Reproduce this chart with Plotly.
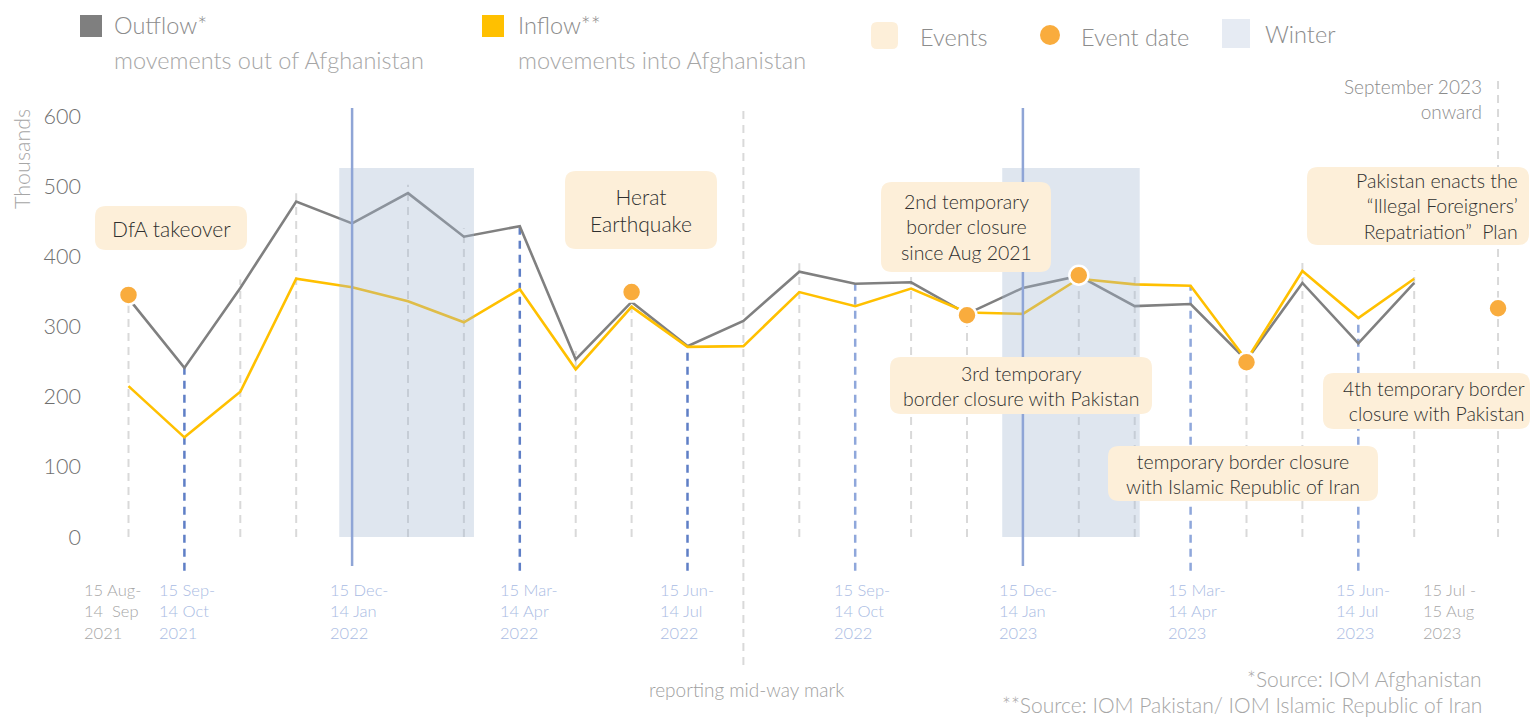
import plotly.graph_objects as go

# ---------------- data ----------------
periods = ["15 Aug-14 Sep 2021", "15 Sep-14 Oct 2021", "15 Oct-14 Nov 2021", "15 Nov-14 Dec 2021",
           "15 Dec-14 Jan 2022", "15 Jan-14 Feb 2022", "15 Feb-14 Mar 2022", "15 Mar-14 Apr 2022",
           "15 Apr-14 May 2022", "15 May-14 Jun 2022", "15 Jun-14 Jul 2022", "15 Jul-14 Aug 2022",
           "15 Aug-14 Sep 2022", "15 Sep-14 Oct 2022", "15 Oct-14 Nov 2022", "15 Nov-14 Dec 2022",
           "15 Dec-14 Jan 2023", "15 Jan-14 Feb 2023", "15 Feb-14 Mar 2023", "15 Mar-14 Apr 2023",
           "15 Apr-14 May 2023", "15 May-14 Jun 2023", "15 Jun-14 Jul 2023", "15 Jul-15 Aug 2023"]
outflow = [340, 241, 355, 478, 447, 490, 428, 443, 253, 335, 272, 308,
           378, 361, 363, 318, 355, 372, 329, 332, 252, 362, 276, 362]
inflow = [215, 142, 207, 368, 356, 336, 306, 353, 239, 328, 271, 272,
          349, 329, 354, 320, 318, 368, 360, 358, 252, 379, 312, 368]

event_x = [0, 9, 15, 17, 20, 24.5]
event_y = [345, 349, 316, 373, 249, 326]

winter_start = [3.77, 15.63]
winter_end = [6.18, 18.09]
winter_top = 526

tick_idx = [0, 1, 4, 7, 10, 13, 16, 19, 22, 23]
tick_text = ["15 Aug-<br>14  Sep<br>2021", "15 Sep-<br>14 Oct<br>2021", "15 Dec-<br>14 Jan<br>2022",
             "15 Mar-<br>14 Apr<br>2022", "15 Jun-<br>14 Jul<br>2022", "15 Sep-<br>14 Oct<br>2022",
             "15 Dec-<br>14 Jan<br>2023", "15 Mar-<br>14 Apr<br>2023", "15 Jun-<br>14 Jul<br>2023",
             "15 Jul -<br>15 Aug<br>2023"]
y_ticks = [0, 100, 200, 300, 400, 500, 600]

grey_month_idx = [0, 2, 3, 5, 6, 8, 9, 12, 14, 15, 17, 18, 20, 21, 23]
quarter_dark_idx = [1, 7, 10]
quarter_light_idx = [13, 19, 22]
winter_mid_idx = [4, 16]
midway_idx = 11
onward_x = 24.5

# ---------------- geometry (pixel mapping) ----------------
W, H = 1530, 717
X0PX, DXPX = 128.5, 55.9
Y0PX, PXPER = 537.0, 0.7017


def X(px):
    return (px - X0PX) / DXPX


def Y(py):
    return (Y0PX - py) / PXPER


FONT = "Lato"
GREY_TXT = "#8c8c8c"
LIGHT_TXT = "#a6a6a6"
BLUE_TXT = "#a9bbe3"
DARK_TXT = "#2f2f2f"
BOX_FILL = "#fdefd9"
ORANGE = "#f9ac3d"
GREY_LINE = "#808080"
YELLOW = "#ffc000"
WINTER = "rgba(164,184,209,0.35)"


def F(size, color, weight=300):
    return dict(family=FONT, size=size, color=color, weight=weight)


fig = go.Figure()

# series
fig.add_trace(go.Scatter(x=list(range(len(outflow))), y=outflow, mode="lines",
                         line=dict(color=GREY_LINE, width=2.6), hoverinfo="skip", name="Outflow"))
fig.add_trace(go.Scatter(x=list(range(len(inflow))), y=inflow, mode="lines",
                         line=dict(color=YELLOW, width=2.6), hoverinfo="skip", name="Inflow"))

# winter shading (as traces so that event dots stay on top)
for ws, we in zip(winter_start, winter_end):
    fig.add_trace(go.Scatter(x=[ws, we, we, ws, ws], y=[0, 0, winter_top, winter_top, 0],
                             mode="lines", fill="toself", fillcolor=WINTER,
                             line=dict(width=0), hoverinfo="skip"))

# event dots
fig.add_trace(go.Scatter(x=event_x, y=event_y, mode="markers",
                         marker=dict(size=19, color=ORANGE, line=dict(color="white", width=2.5)),
                         hoverinfo="skip", name="Event date"))

shapes = []
vmax = [max(a, b) for a, b in zip(outflow, inflow)]
for i in grey_month_idx:
    top = vmax[i] + 12
    shapes.append(dict(type="line", xref="x", yref="y", x0=i, x1=i, y0=0, y1=top, layer="below",
                       line=dict(color="#d9d9d9", width=2, dash="8px,6px")))
for i in quarter_dark_idx:
    shapes.append(dict(type="line", xref="x", yref="y", x0=i, x1=i, y0=-48, y1=vmax[i], layer="below",
                       line=dict(color="#5f7fc6", width=2.5, dash="8px,6px")))
for i in quarter_light_idx:
    shapes.append(dict(type="line", xref="x", yref="y", x0=i, x1=i, y0=-48, y1=vmax[i], layer="below",
                       line=dict(color="#8fa7db", width=2.5, dash="8px,6px")))
shapes.append(dict(type="line", xref="x", yref="y", x0=midway_idx, x1=midway_idx, y0=Y(665), y1=Y(108),
                   layer="below", line=dict(color="#d9d9d9", width=2, dash="8px,6px")))
shapes.append(dict(type="line", xref="x", yref="y", x0=onward_x, x1=onward_x, y0=0, y1=Y(78),
                   layer="below", line=dict(color="#d9d9d9", width=2, dash="8px,6px")))
for i in winter_mid_idx:
    shapes.append(dict(type="line", xref="x", yref="y", x0=i, x1=i, y0=Y(566), y1=Y(108), layer="above",
                       line=dict(color="#8fa5d6", width=2.5)))


def rounded(px0, py0, px1, py1, r=10):
    p = (f"M {X(px0 + r)},{Y(py0)} L {X(px1 - r)},{Y(py0)} Q {X(px1)},{Y(py0)} {X(px1)},{Y(py0 + r)} "
         f"L {X(px1)},{Y(py1 - r)} Q {X(px1)},{Y(py1)} {X(px1 - r)},{Y(py1)} "
         f"L {X(px0 + r)},{Y(py1)} Q {X(px0)},{Y(py1)} {X(px0)},{Y(py1 - r)} "
         f"L {X(px0)},{Y(py0 + r)} Q {X(px0)},{Y(py0)} {X(px0 + r)},{Y(py0)} Z")
    return p


annotations = []

# event boxes: (x0, y0, x1, y1, text, align, text_x, size)
boxes = [
    (95, 206, 247, 250, "DfA takeover", "center", None, 21),
    (565, 171, 717, 249, "Herat<br>Earthquake", "center", None, 21),
    (881, 182, 1051, 272, "2nd temporary<br>border closure<br>since Aug 2021", "center", None, 19.5),
    (890, 357, 1152, 414, "3rd temporary<br>border closure with Pakistan", "center", None, 19.5),
    (1108, 446, 1378, 501, "temporary border closure<br>with Islamic Republic of Iran", "center", None, 19.5),
    (1307, 167, 1529, 245, "Pakistan enacts the<br>“Illegal Foreigners’<br>Repatriation”  Plan", "right", 1520, 19.5),
    (1323, 373, 1530, 429, "4th temporary border<br>closure with Pakistan", "right", 1527, 19.5),
]
for x0, y0, x1, y1, txt, al, tx, sz in boxes:
    shapes.append(dict(type="path", xref="x", yref="y", path=rounded(x0, y0, x1, y1, 11),
                       fillcolor=BOX_FILL, line=dict(width=0), layer="above"))
    if al == "center":
        annotations.append(dict(x=X((x0 + x1) / 2), y=Y((y0 + y1) / 2), text=txt,
                                xanchor="center", yanchor="middle", align="center",
                                font=F(sz, DARK_TXT)))
    else:
        annotations.append(dict(x=X(tx), y=Y((y0 + y1) / 2), text=txt,
                                xanchor="right", yanchor="middle", align="right",
                                font=F(sz, DARK_TXT)))

# x tick labels
tick_shift = [-47, -27, -24, -22, -30, -23, -26, -25, -24, 7]
for k, (i, t) in enumerate(zip(tick_idx, tick_text)):
    col = LIGHT_TXT if i in (0, 23) else BLUE_TXT
    annotations.append(dict(x=i, y=Y(611), text=t,
                            xanchor="left", yanchor="middle", align="left", xshift=tick_shift[k],
                            font=F(16.5, col)))

# other texts
annotations += [
    dict(x=X(746), y=Y(689), text="reporting mid-way mark", xanchor="center", yanchor="middle",
         font=F(19, "#a0a0a0")),
    dict(x=X(1484), y=Y(678), text="*Source: IOM Afghanistan", xanchor="right", yanchor="middle",
         font=F(21, LIGHT_TXT)),
    dict(x=X(1484), y=Y(704), text="**Source: IOM Pakistan/ IOM Islamic Republic of Iran", xanchor="right",
         yanchor="middle", font=F(21, LIGHT_TXT)),
    dict(x=X(1484), y=Y(99), text="September 2023<br>onward", xanchor="right", yanchor="middle", align="right",
         font=F(19, GREY_TXT)),
    dict(x=X(22), y=Y(159), text="Thousands", textangle=-90, xanchor="center", yanchor="middle",
         font=F(21.5, LIGHT_TXT)),
    # legend
    dict(x=X(112), y=Y(25), text="Outflow*", xanchor="left", yanchor="middle", font=F(23.5, GREY_TXT)),
    dict(x=X(112), y=Y(60), text="movements out of Afghanistan", xanchor="left", yanchor="middle",
         font=F(23.5, LIGHT_TXT)),
    dict(x=X(516), y=Y(25), text="Inflow**", xanchor="left", yanchor="middle", font=F(23.5, GREY_TXT)),
    dict(x=X(516), y=Y(60), text="movements into Afghanistan", xanchor="left", yanchor="middle",
         font=F(23.5, LIGHT_TXT)),
    dict(x=X(918), y=Y(37), text="Events", xanchor="left", yanchor="middle", font=F(23.5, GREY_TXT)),
    dict(x=X(1079), y=Y(37), text="Event date", xanchor="left", yanchor="middle", font=F(23.5, GREY_TXT)),
    dict(x=X(1263), y=Y(34), text="Winter", xanchor="left", yanchor="middle", font=F(23.5, GREY_TXT)),
]
for a in annotations:
    a.setdefault("xref", "x")
    a.setdefault("yref", "y")
    a.setdefault("showarrow", False)

# legend swatches
shapes += [
    dict(type="rect", xref="x", yref="y", x0=X(80), x1=X(102), y0=Y(37), y1=Y(15),
         fillcolor="#7f7f7f", line=dict(width=0), layer="above"),
    dict(type="rect", xref="x", yref="y", x0=X(482), x1=X(504), y0=Y(37), y1=Y(15),
         fillcolor=YELLOW, line=dict(width=0), layer="above"),
    dict(type="path", xref="x", yref="y", path=rounded(871, 22, 898, 49, 6),
         fillcolor=BOX_FILL, line=dict(width=0), layer="above"),
    dict(type="circle", xref="x", yref="y", x0=X(1040), x1=X(1060), y0=Y(45), y1=Y(25),
         fillcolor=ORANGE, line=dict(width=0), layer="above"),
    dict(type="rect", xref="x", yref="y", x0=X(1222), x1=X(1250), y0=Y(48), y1=Y(19),
         fillcolor="#e6ebf3", line=dict(width=0), layer="above"),
]

fig.update_layout(
    width=W, height=H,
    margin=dict(l=0, r=0, t=0, b=0),
    paper_bgcolor="white", plot_bgcolor="white",
    showlegend=False,
    shapes=shapes,
    annotations=annotations,
    xaxis=dict(range=[X(0), X(W)], visible=False, fixedrange=True),
    yaxis=dict(range=[Y(H), Y(0)], tickvals=y_ticks, ticktext=[str(v) for v in y_ticks],
               showgrid=False, zeroline=False, showline=False, ticks="",
               anchor="free", position=81 / W, side="left",
               tickfont=F(21.5, "#6f6f6f"), fixedrange=True),
    font=dict(family=FONT),
)

fig.write_html("out.html", config={"displayModeBar": False},
               post_script="document.body.style.margin='0';document.body.style.overflow='hidden';")
